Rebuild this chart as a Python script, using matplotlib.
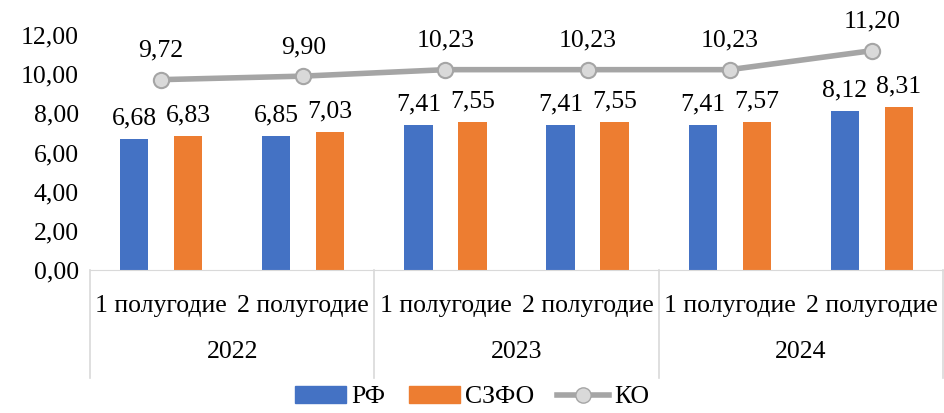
import matplotlib.pyplot as plt
from matplotlib.lines import Line2D
from matplotlib.patches import Patch

plt.rcParams['font.family'] = ['Liberation Serif', 'DejaVu Serif']

categories = ['1 полугодие', '2 полугодие'] * 3
years = ['2022', '2023', '2024']
rf = [6.68, 6.85, 7.41, 7.41, 7.41, 8.12]
szfo = [6.83, 7.03, 7.55, 7.55, 7.57, 8.31]
ko = [9.72, 9.90, 10.23, 10.23, 10.23, 11.20]

BLUE = '#4472C4'
ORANGE = '#ED7D31'
GRAY = '#A5A5A5'
FS = 18.5


def fmt(v):
    return f'{v:.2f}'.replace('.', ',')


fig = plt.figure(figsize=(9.44, 4.13), dpi=100)
ax = fig.add_axes([90 / 944, 143 / 413, 853 / 944, 235 / 413])

x = list(range(len(categories)))
w = 0.2
off = 0.19
b1 = ax.bar([i - off for i in x], rf, width=w, color=BLUE)
b2 = ax.bar([i + off for i in x], szfo, width=w, color=ORANGE)
ax.plot(x, ko, color=GRAY, lw=4, marker='o', ms=11,
        markerfacecolor='#D9D9D9', markeredgecolor=GRAY, markeredgewidth=1.5, zorder=3)

ax.bar_label(b1, labels=[fmt(v) for v in rf], padding=7, fontsize=FS)
ax.bar_label(b2, labels=[fmt(v) for v in szfo], padding=7, fontsize=FS)
for xi, v in zip(x, ko):
    ax.annotate(fmt(v), (xi, v), xytext=(0, 13), textcoords='offset points',
                ha='center', va='bottom', fontsize=FS)

ax.set_xlim(-0.5, 5.5)
ax.set_ylim(0, 12)
ax.set_yticks(range(0, 13, 2))
ax.set_yticklabels([fmt(v) for v in range(0, 13, 2)], fontsize=FS)
ax.set_xticks(x)
ax.set_xticklabels(categories, fontsize=FS)
ax.tick_params(axis='x', length=0, pad=18)
ax.tick_params(axis='y', length=0, pad=8)

for s in ['top', 'right', 'left']:
    ax.spines[s].set_visible(False)
ax.spines['bottom'].set_color('#D9D9D9')

# year group row and separators
for k, yr in enumerate(years):
    ax.text(2 * k + 0.5, -0.35, yr, transform=ax.get_xaxis_transform(),
            ha='center', va='center', fontsize=FS)
for sx in [-0.5, 1.5, 3.5, 5.5]:
    ax.add_line(Line2D([sx, sx], [0, -0.46], transform=ax.get_xaxis_transform(),
                       color='#D9D9D9', lw=1.2, clip_on=False))

handles = [Patch(color=BLUE, label='РФ'),
           Patch(color=ORANGE, label='СЗФО'),
           Line2D([], [], color=GRAY, lw=4, marker='o', ms=11,
                  markerfacecolor='#D9D9D9', markeredgecolor=GRAY, label='КО')]
fig.legend(handles=handles, loc='lower center', bbox_to_anchor=(0.5, -0.045), ncol=3,
           frameon=False, fontsize=FS, handlelength=2.0, handleheight=0.6,
           columnspacing=0.9, handletextpad=0.2)

fig.savefig('out.png', dpi=100)
